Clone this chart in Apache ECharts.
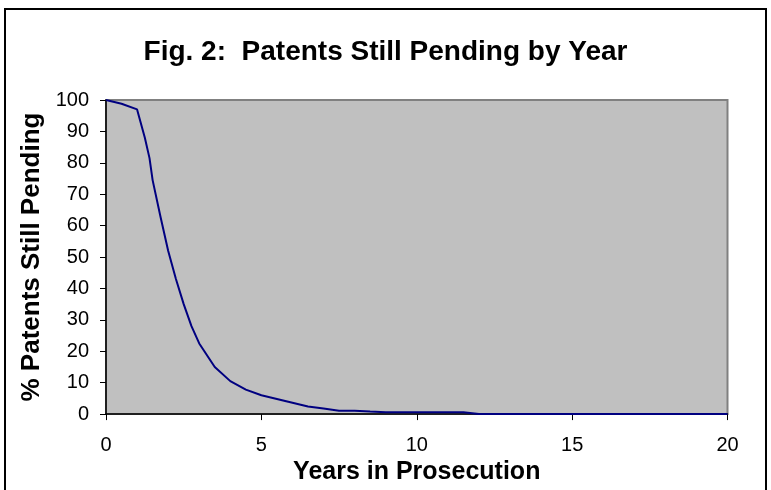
<!DOCTYPE html>
<html>
<head>
<meta charset="utf-8">
<script src="https://cdn.jsdelivr.net/npm/echarts@6/dist/echarts.min.js"></script>
<style>
  html, body { margin: 0; padding: 0; background: #fff; }
  #chart { width: 771px; height: 490px; }
</style>
</head>
<body>
<div id="chart"></div>
<script>
// years in prosecution vs % still pending
const years = [0, 0.5, 1, 1.25, 1.4, 1.5, 1.75, 2, 2.25, 2.5, 2.75, 3, 3.5, 4, 4.5, 5, 5.5, 6, 6.5, 7, 7.5, 8, 8.5, 9, 10, 11, 11.5, 12, 13, 14, 15, 16, 17, 18, 19, 20];
const pending = [100, 98.8, 97, 88, 81.5, 74.5, 63, 52, 43, 35, 28, 22.5, 15, 10.5, 7.8, 6, 4.8, 3.6, 2.4, 1.8, 1.1, 1.1, 0.8, 0.6, 0.6, 0.6, 0.6, 0, 0, 0, 0, 0, 0, 0, 0, 0];
const xTicks = [0, 5, 10, 15, 20];

const chart = echarts.init(document.getElementById("chart"));

const axisFont = { fontFamily: "Liberation Sans", fontSize: 20, color: "#000" };
const nameFont = { fontFamily: "Liberation Sans", fontSize: 25, fontWeight: "bold", color: "#000" };

chart.setOption({
  animation: false,
  title: {
    text: "Fig. 2:  Patents Still Pending by Year",
    left: "center",
    top: 33,
    textStyle: { fontFamily: "Liberation Sans", fontSize: 28, fontWeight: "bold", color: "#000" },
  },
  graphic: [
    {
      type: "rect",
      shape: { x: 5, y: 9, width: 761, height: 490 },
      style: { fill: "none", stroke: "#000", lineWidth: 2 },
      silent: true,
    },
  ],
  grid: {
    left: 106,
    right: 43.5,
    top: 100,
    bottom: 74.7,
    show: true,
    backgroundColor: "#c0c0c0",
    borderColor: "#808080",
    borderWidth: 2,
  },
  xAxis: {
    type: "value",
    min: 0,
    max: 20,
    interval: 5,
    name: "Years in Prosecution",
    nameLocation: "middle",
    nameGap: 38,
    nameTextStyle: nameFont,
    axisLine: { show: true, lineStyle: { color: "#000", width: 1.5 } },
    axisTick: { show: true, length: 6, lineStyle: { color: "#000" } },
    axisLabel: { ...axisFont, margin: 21, formatter: (v) => (xTicks.includes(v) ? String(v) : "") },
    splitLine: { show: false },
  },
  yAxis: {
    type: "value",
    min: 0,
    max: 100,
    interval: 10,
    name: "% Patents Still Pending",
    nameLocation: "middle",
    nameGap: 57,
    nameTextStyle: { ...nameFont, fontSize: 26 },
    axisLine: { show: true, lineStyle: { color: "#000", width: 1.5 } },
    axisTick: { show: true, length: 6, lineStyle: { color: "#000" } },
    axisLabel: { ...axisFont, margin: 17 },
    splitLine: { show: false },
  },
  series: [
    {
      type: "line",
      data: years.map((x, i) => [x, pending[i]]),
      showSymbol: false,
      lineStyle: { color: "#000080", width: 2 },
    },
  ],
});
</script>
</body>
</html>
